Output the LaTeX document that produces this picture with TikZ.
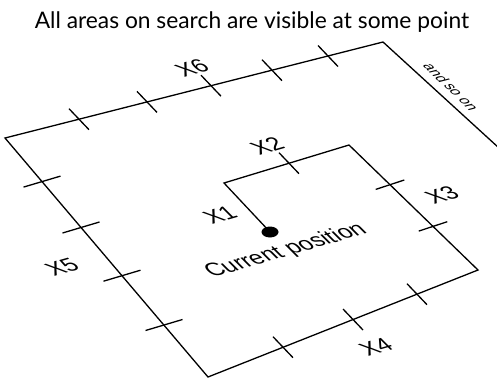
\documentclass[tikz,border=0pt]{standalone}
\usepackage{fontspec}
\setmainfont{Lato}
\newfontfamily\helv{Liberation Sans}
\usetikzlibrary{shapes.geometric}
\begin{document}
\begin{tikzpicture}[x=1pt, y=-1pt,
  rim/.style={line width=1.3pt, line join=miter},
  notch/.style={line width=1.3pt},
  planelabel/.style={font=\helv\fontsize{23}{23}\selectfont, inner sep=0pt, cm={0.961,0.276,-0.72,0.72,(0,0)}},
  sidelabel/.style={font=\helv\fontsize{15}{15}\selectfont, inner sep=0pt, cm={0.72,-0.69,0.97,0.25,(0,0)}}]
  \useasboundingbox (0,0) rectangle (497,378);
  \node[font=\fontsize{22.8}{24}\selectfont] (title) at (252,22) {All areas on search are visible at some point};
  % spiral
  \node[ellipse, fill, minimum width=17pt, minimum height=11pt, inner sep=0pt] (pos) at (270,232) {};
  \coordinate (c1) at (224,183);
  \coordinate (c2) at (349,145);
  \coordinate (c3) at (478,270);
  \coordinate (c4) at (208,377);
  \coordinate (c5) at (5,138);
  \coordinate (c6) at (383,42);
  \coordinate (c7) at (499,148);
  \draw[rim] (pos.center) -- (c1) -- (c2) -- (c3) -- (c4) -- (c5) -- (c6) -- (c7);
  % ticks
  \foreach \x/\y in {79/119.2, 147/101.9, 211/85.7, 272/70.2, 328/56, 289/163.2, 417/294.2, 353/319.5, 283/347.2}
    \draw[notch] (\x,\y) ++(-10,-10.5) -- ++(20,21);
  \foreach \x/\y in {390/184.7, 433/226.4}
    \draw[notch] (\x,\y) ++(-14.3,4.7) -- ++(28.6,-9.4);
  \foreach \x/\y in {42/181.6, 81/227.5, 122/275.7, 164/325}
    \draw[notch] (\x,\y) ++(-18.5,5.5) -- ++(37,-11);
  % labels
  \node[planelabel] (x1) at (220,215) {X1};
  \node[planelabel] (x2) at (267,146) {X2};
  \node[planelabel] (x3) at (442,195) {X3};
  \node[planelabel] (x4) at (376,347) {X4};
  \node[planelabel] (x5) at (62,267) {X5};
  \node[planelabel] (x6) at (192,68) {X6};
  \node[planelabel] (cur) at (286,251) {Current position};
  \node[sidelabel] (more) at (451,87) {and so on};
\end{tikzpicture}
\end{document}
